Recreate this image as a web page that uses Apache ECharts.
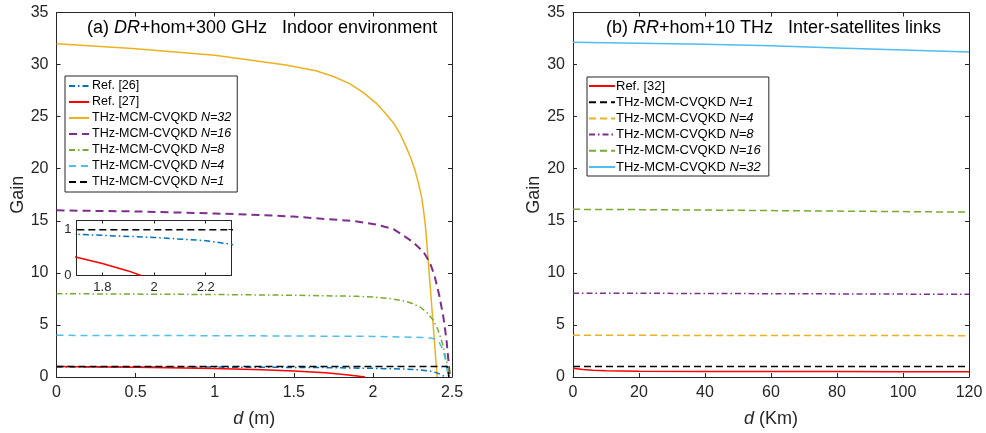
<!DOCTYPE html>
<html>
<head>
<meta charset="utf-8">
<script src="https://cdn.jsdelivr.net/npm/echarts@6/dist/echarts.min.js"></script>
<style>
  html, body { margin: 0; padding: 0; background: #fff; }
  #main { width: 986px; height: 433px; }
</style>
</head>
<body>
<div id="main"></div>
<script>
// ---- (a) indoor, d in metres ----
var d32 = [0, 0.48, 1.0, 1.22, 1.45, 1.64, 1.75, 1.85, 1.94, 2.02, 2.08, 2.13, 2.17, 2.21, 2.24, 2.265, 2.29, 2.307, 2.32, 2.334, 2.37, 2.406];
var g32 = [32.0, 31.55, 30.9, 30.43, 29.95, 29.4, 28.85, 28.2, 27.3, 26.3, 25.3, 24.4, 23.4, 22.1, 21.0, 19.9, 18.5, 17.35, 16.0, 14.2, 7.2, 0];
var d16 = [0, 0.5, 1.0, 1.22, 1.5, 1.89, 2.02, 2.13, 2.25, 2.32, 2.36, 2.39, 2.42, 2.445, 2.465, 2.487];
var g16 = [16.0, 15.9, 15.7, 15.6, 15.4, 14.96, 14.65, 14.2, 13.0, 12.0, 11.0, 9.7, 7.8, 5.8, 3.6, 0];
var d8 = [0, 1.0, 1.5, 1.9, 2.0, 2.1, 2.2, 2.25, 2.3, 2.34, 2.38, 2.41, 2.44, 2.47, 2.485];
var g8 = [8.0, 7.92, 7.85, 7.75, 7.67, 7.55, 7.3, 7.05, 6.7, 6.2, 5.5, 4.6, 3.2, 1.2, 0];
var d4 = [0, 1.0, 2.0, 2.31, 2.36, 2.4, 2.42, 2.44, 2.46, 2.475];
var g4 = [4.0, 3.97, 3.9, 3.8, 3.74, 3.64, 3.3, 2.7, 1.6, 0];
var d1 = [0, 2.47, 2.48];
var g1 = [1, 1, 0];
var d26 = [0, 0.5, 1.0, 1.5, 1.7, 2.0, 2.2, 2.3, 2.36, 2.4, 2.42, 2.44, 2.46];
var g26 = [0.97, 0.96, 0.95, 0.92, 0.9, 0.83, 0.76, 0.68, 0.58, 0.42, 0.3, 0.15, 0];
var d27 = [0, 0.5, 1.0, 1.3, 1.5, 1.7, 1.8, 1.9, 1.95];
var g27 = [1.0, 0.94, 0.81, 0.69, 0.57, 0.4, 0.26, 0.1, 0];

// ---- (b) inter-satellite, d in km ----
var km = [0, 20, 40, 60, 80, 100, 120];
var s32 = [32.15, 32.05, 31.95, 31.8, 31.6, 31.4, 31.2];
var s16 = [16.1, 16.07, 16.03, 15.98, 15.93, 15.88, 15.83];
var s8 = [8.05, 8.04, 8.02, 8.0, 7.98, 7.96, 7.94];
var s4 = [4.0, 4.0, 3.99, 3.99, 3.98, 3.98, 3.97];
var s1 = [1, 1, 1, 1, 1, 1, 1];
var kmRef = [0, 3, 6, 10, 20, 40, 60, 80, 100, 120];
var sRef = [0.83, 0.72, 0.64, 0.59, 0.56, 0.54, 0.53, 0.52, 0.51, 0.5];

var yTicks = [0, 35, 5];
var xTicksA = [0, 2.5, 0.5];
var xTicksB = [0, 120, 20];
var insetX = [1.8, 2, 2.2];

var C = { blue: '#0072BD', red: '#FF0000', orange: '#EDB120', purple: '#7E2F8E', green: '#77AC30', cyan: '#4DBEEE', black: '#000000' };
var AX = '#262626';
var FONT = '"Liberation Sans", Arial, sans-serif';

function pts(xs, ys) {
  var out = [];
  for (var i = 0; i < xs.length; i++) out.push([xs[i], ys[i]]);
  return out;
}

function line(name, xs, ys, color, type, width, xi, yi, z) {
  return {
    name: name, type: 'line', data: pts(xs, ys),
    xAxisIndex: xi, yAxisIndex: yi,
    symbol: 'none', smooth: false,
    color: color, z: z || 2,
    lineStyle: { color: color, type: type, width: width },
    animation: false
  };
}

function axis(gi, pos, min, max, interval, showLabel, extra) {
  var a = {
    type: 'value', gridIndex: gi, position: pos, min: min, max: max, interval: interval,
    axisLine: { show: true, onZero: false, lineStyle: { color: AX, width: 1 } },
    axisTick: { show: true, inside: true, length: 4, lineStyle: { color: AX } },
    axisLabel: { show: showLabel, color: AX, fontSize: 16, fontFamily: FONT },
    splitLine: { show: false }
  };
  for (var k in extra) a[k] = extra[k];
  return a;
}

var names = {
  a26: 'Ref. [26]', a27: 'Ref. [27]',
  a32: 'THz-MCM-CVQKD {i|N=32}', a16: 'THz-MCM-CVQKD {i|N=16}', a8: 'THz-MCM-CVQKD {i|N=8}',
  a4: 'THz-MCM-CVQKD {i|N=4}', a1: 'THz-MCM-CVQKD {i|N=1}',
  b32r: 'Ref. [32]', b1: 'THz-MCM-CVQKD {i|N=1}', b4: 'THz-MCM-CVQKD {i|N=4}', b8: 'THz-MCM-CVQKD {i|N=8}',
  b16: 'THz-MCM-CVQKD {i|N=16}', b32: 'THz-MCM-CVQKD {i|N=32}'
};

var dashDot = [6, 3, 1.5, 3];

var myChart = echarts.init(document.getElementById('main'));

var option = {
  animation: false,
  backgroundColor: '#fff',
  textStyle: { fontFamily: FONT },
  title: [
    { text: '(a) {i|DR}+hom+300 GHz   Indoor environment', left: 87, top: 19, padding: 0,
      textStyle: { fontSize: 18, fontWeight: 'normal', color: '#000', fontFamily: FONT,
        rich: { i: { fontSize: 18, fontStyle: 'italic', color: '#000', fontFamily: FONT } } } },
    { text: '(b) {i|RR}+hom+10 THz   Inter-satellites links', left: 606, top: 19, padding: 0,
      textStyle: { fontSize: 18, fontWeight: 'normal', color: '#000', fontFamily: FONT,
        rich: { i: { fontSize: 18, fontStyle: 'italic', color: '#000', fontFamily: FONT } } } }
  ],
  legend: [
    { orient: 'vertical', left: 65, top: 76, itemWidth: 20, itemHeight: 14, itemGap: 2,
      padding: [3, 6, 3, 3], backgroundColor: '#fff', borderColor: AX, borderWidth: 1,
      itemStyle: { opacity: 0 },
      data: ['a26', 'a27', 'a32', 'a16', 'a8', 'a4', 'a1'],
      formatter: function (n) { return names[n]; },
      textStyle: { fontSize: 12.5, color: '#000', lineHeight: 14, padding: [0, 0, 0, -2],
        rich: { i: { fontSize: 12.5, fontStyle: 'italic', color: '#000' } } } },
    { orient: 'vertical', left: 587, top: 77, itemWidth: 26, itemHeight: 14, itemGap: 2.2,
      padding: [2, 8, 2, 1], backgroundColor: '#fff', borderColor: AX, borderWidth: 1,
      itemStyle: { opacity: 0 },
      data: ['b32r', 'b1', 'b4', 'b8', 'b16', 'b32'],
      formatter: function (n) { return names[n]; },
      textStyle: { fontSize: 13, color: '#000', lineHeight: 14, padding: [0, 0, 0, -4],
        rich: { i: { fontSize: 13, fontStyle: 'italic', color: '#000' } } } }
  ],
  grid: [
    { left: 56.5, top: 12.5, width: 395.5, height: 365.5 },
    { left: 573, top: 12.5, width: 396, height: 365.5 },
    { left: 76.5, top: 220.5, width: 155, height: 55, show: true, backgroundColor: '#fff', borderWidth: 0, z: 5 }
  ],
  xAxis: [
    axis(0, 'bottom', xTicksA[0], xTicksA[1], xTicksA[2], true, {
      name: '{i|d} (m)', nameLocation: 'middle', nameGap: 33,
      nameTextStyle: { fontSize: 18, color: AX, fontFamily: FONT, rich: { i: { fontSize: 18, fontStyle: 'italic', color: AX } } } }),
    axis(0, 'top', xTicksA[0], xTicksA[1], xTicksA[2], false, {}),
    axis(1, 'bottom', xTicksB[0], xTicksB[1], xTicksB[2], true, {
      name: '{i|d} (Km)', nameLocation: 'middle', nameGap: 33,
      nameTextStyle: { fontSize: 18, color: AX, fontFamily: FONT, rich: { i: { fontSize: 18, fontStyle: 'italic', color: AX } } } }),
    axis(1, 'top', xTicksB[0], xTicksB[1], xTicksB[2], false, {}),
    axis(2, 'bottom', 1.7, 2.3, null, true, { z: 6,
      axisTick: { show: true, inside: true, length: 3, customValues: insetX, lineStyle: { color: AX } },
      axisLabel: { show: true, color: AX, fontSize: 13, fontFamily: FONT, margin: 5, customValues: insetX } }),
    axis(2, 'top', 1.7, 2.3, null, false, { z: 6,
      axisTick: { show: true, inside: true, length: 3, customValues: insetX, lineStyle: { color: AX } } })
  ],
  yAxis: [
    axis(0, 'left', yTicks[0], yTicks[1], yTicks[2], true, {
      name: 'Gain', nameLocation: 'middle', nameGap: 28, nameTextStyle: { fontSize: 18, color: AX, fontFamily: FONT } }),
    axis(0, 'right', yTicks[0], yTicks[1], yTicks[2], false, {}),
    axis(1, 'left', yTicks[0], yTicks[1], yTicks[2], true, {
      name: 'Gain', nameLocation: 'middle', nameGap: 28, nameTextStyle: { fontSize: 18, color: AX, fontFamily: FONT } }),
    axis(1, 'right', yTicks[0], yTicks[1], yTicks[2], false, {}),
    axis(2, 'left', 0, 1.2, 1, true, { z: 6,
      axisTick: { show: true, inside: true, length: 3, lineStyle: { color: AX } },
      axisLabel: { show: true, color: AX, fontSize: 13, fontFamily: FONT, margin: 5 } }),
    axis(2, 'right', 0, 1.2, 1, false, { z: 6,
      axisTick: { show: true, inside: true, length: 3, lineStyle: { color: AX } } })
  ],
  series: [
    line('a32', d32, g32, C.orange, 'solid', 1.5, 0, 0),
    line('a16', d16, g16, C.purple, [8, 5], 2, 0, 0),
    line('a8', d8, g8, C.green, dashDot, 1.5, 0, 0),
    line('a4', d4, g4, C.cyan, [7, 5], 1.5, 0, 0),
    line('a26', d26, g26, C.blue, dashDot, 1.5, 0, 0),
    line('a27', d27, g27, C.red, 'solid', 1.5, 0, 0),
    line('a1', d1, g1, C.black, [7, 4], 1.5, 0, 0),
    // inset, same curves zoomed
    line('i26', d26, g26, C.blue, dashDot, 1.5, 4, 4, 7),
    line('i27', d27, g27, C.red, 'solid', 1.5, 4, 4, 7),
    line('i1', d1, g1, C.black, [7, 4], 1.5, 4, 4, 7),
    // (b)
    line('b32r', kmRef, sRef, C.red, 'solid', 1.5, 2, 2),
    line('b1', km, s1, C.black, [7, 4], 1.5, 2, 2),
    line('b4', km, s4, C.orange, [7, 4], 1.5, 2, 2),
    line('b8', km, s8, C.purple, dashDot, 1.5, 2, 2),
    line('b16', km, s16, C.green, [7, 4], 1.5, 2, 2),
    line('b32', km, s32, C.cyan, 'solid', 1.5, 2, 2)
  ]
};

myChart.setOption(option);
</script>
</body>
</html>
